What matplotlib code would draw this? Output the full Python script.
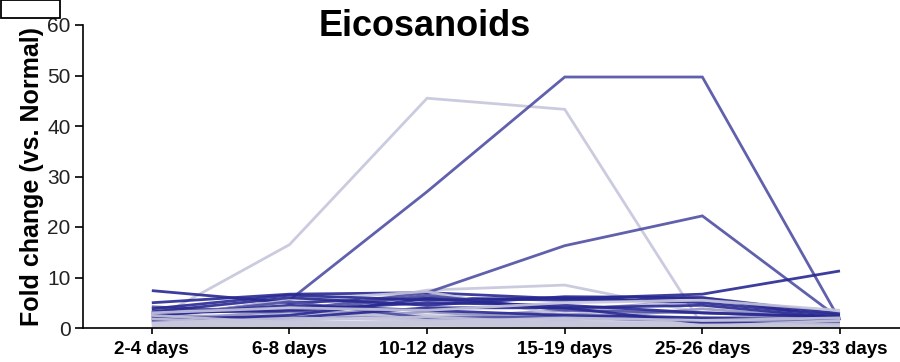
import matplotlib
matplotlib.use("Agg")
import matplotlib.pyplot as plt
from matplotlib.patches import Rectangle

plt.rcParams['font.family'] = ['Liberation Sans', 'DejaVu Sans']

timepoints = ["2-4 days", "6-8 days", "10-12 days", "15-19 days", "25-26 days", "29-33 days"]
y_ticks = [0, 10, 20, 30, 40, 50, 60]

# fold change per eicosanoid across the time windows
dark_series = [
    [7.4, 5.0, 6.0, 5.5, 6.0, 2.0],
    [5.0, 6.7, 7.0, 5.8, 6.7, 11.3],
    [3.8, 6.5, 5.5, 6.0, 5.0, 2.5],
    [3.0, 3.5, 5.0, 4.5, 3.0, 2.2],
    [2.5, 4.5, 3.5, 2.5, 2.0, 1.5],
    [2.0, 2.0, 4.0, 4.0, 4.5, 2.0],
    [1.5, 2.5, 5.8, 4.0, 1.0, 1.0],
    [3.2, 6.0, 4.5, 6.2, 6.0, 2.8],
]
medium_series = [
    [2.0, 5.5, 27.0, 49.7, 49.7, 1.5],
    [3.0, 3.5, 7.0, 16.3, 22.2, 1.8],
    [4.2, 3.0, 6.5, 3.5, 3.0, 2.0],
    [2.2, 5.2, 2.0, 2.2, 1.2, 1.5],
]
pale_series = [
    [3.5, 4.0, 2.0, 3.5, 5.5, 3.0],
    [2.8, 1.5, 3.2, 1.5, 3.8, 1.8],
    [1.2, 3.5, 1.5, 2.8, 2.0, 2.5],
]
light_series = [
    [1.5, 16.5, 45.5, 43.3, 0.5, 2.5],
    [2.0, 3.0, 7.5, 8.5, 3.0, 3.0],
    [2.0, 5.5, 7.2, 2.5, 6.0, 3.0],
    [1.0, 2.8, 2.5, 1.5, 1.8, 1.0],
    [0.8, 1.2, 1.0, 0.8, 0.8, 0.8],
    [0.5, 0.6, 0.7, 0.5, 0.5, 0.5],
    [1.5, 2.0, 1.5, 1.0, 1.2, 1.2],
    [2.5, 1.0, 0.8, 1.2, 0.6, 0.8],
    [0.3, 0.4, 0.5, 0.4, 0.4, 0.3],
    [1.8, 0.8, 1.2, 2.0, 1.5, 2.0],
    [3.0, 4.0, 3.5, 5.0, 5.5, 3.5],
    [1.0, 1.5, 2.2, 1.0, 0.3, 1.5],
]

groups = [
    (light_series, "#c6c6dc"),
    (pale_series, "#9696c4"),
    (medium_series, "#4f4fa4"),
    (dark_series, "#282892"),
]

fig = plt.figure(figsize=(9.0, 3.62), dpi=100)
ax = fig.add_axes([83 / 900, 34 / 362, 817 / 900, 303 / 362])

x = list(range(len(timepoints)))
# interleave so light and dark traces overlap each other
order = []
maxlen = max(len(g[0]) for g in groups)
for i in range(maxlen):
    for series, color in groups:
        if i < len(series):
            order.append((series[i], color))
for vals, color in order:
    ax.plot(x, vals, color=color, lw=2.0, alpha=0.9, solid_capstyle='butt',
            solid_joinstyle='miter', clip_on=False)

ax.set_xlim(-0.5, 5.436)
ax.set_ylim(0, 60)
ax.set_yticks(y_ticks)
ax.set_yticklabels([str(t) for t in y_ticks], fontsize=15, color='#222222')
ax.set_xticks(x)
ax.set_xticklabels(timepoints, fontsize=13.5, fontweight='bold')
ax.tick_params(axis='y', length=6, width=1.2, pad=3)
ax.tick_params(axis='x', length=4, width=1.2, pad=5)
for side in ('top', 'right'):
    ax.spines[side].set_visible(False)
for side in ('left', 'bottom'):
    ax.spines[side].set_linewidth(1.2)
ax.set_ylabel("Fold change (vs. Normal)", fontsize=18, fontweight='bold', labelpad=2)

fig.text(425 / 900, 1 - 27 / 362, "Eicosanoids", fontsize=26, fontweight='bold',
         ha='center', va='center')

fig.patches.append(Rectangle((0.5 / 900, 1 - 18 / 362), 59 / 900, 17.5 / 362,
                             transform=fig.transFigure, fill=False,
                             edgecolor='black', lw=1.3))

fig.savefig("out.png", dpi=100)
